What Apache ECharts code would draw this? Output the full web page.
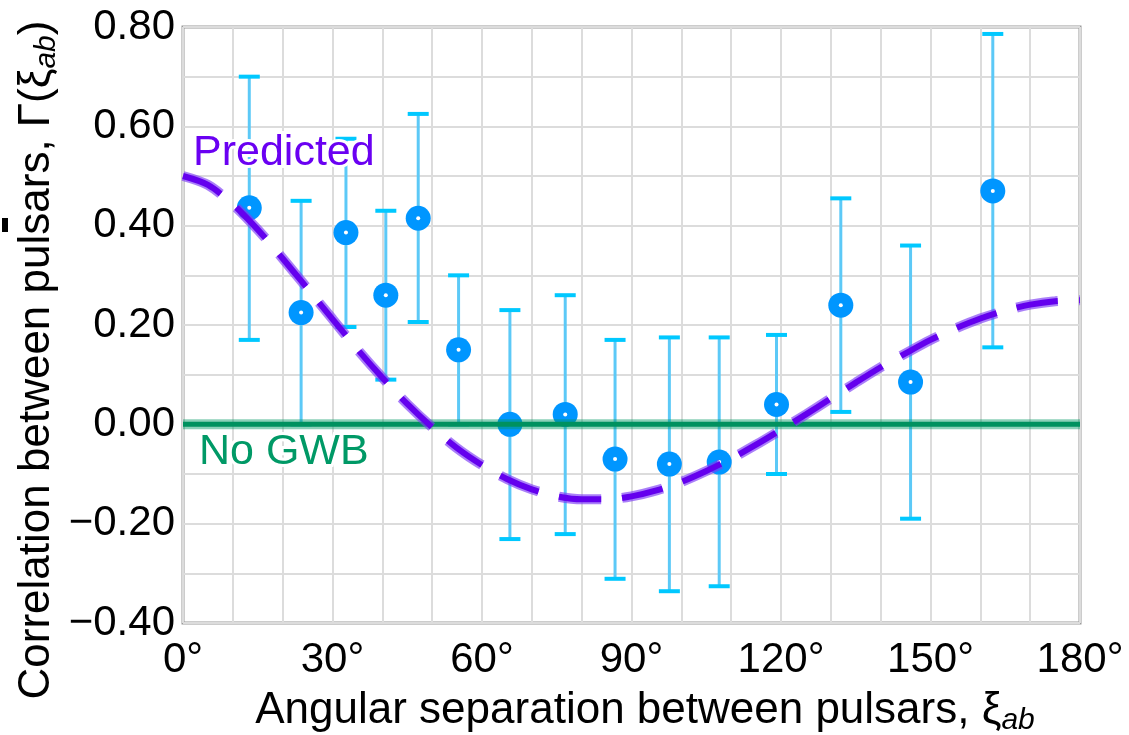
<!DOCTYPE html>
<html>
<head>
<meta charset="utf-8">
<script src="https://cdn.jsdelivr.net/npm/echarts@6/dist/echarts.min.js"></script>
<style>
  html, body { margin: 0; padding: 0; background: #fff; }
  #chart { width: 1129px; height: 735px; }
</style>
</head>
<body>
<div id="chart"></div>
<script>
// Measured pulsar-pair correlations, binned by angular separation (degrees)
const angles       = [13.3, 23.7, 32.7, 40.7, 47.2, 55.3, 65.6, 76.7, 86.7, 97.6, 107.6, 119.1, 132.0, 146.0, 162.5];
const correlations = [0.436, 0.225, 0.386, 0.26, 0.415, 0.15, 0.0, 0.02, -0.07, -0.08, -0.076, 0.04, 0.24, 0.085, 0.47];
const upperBounds  = [0.70, 0.45, 0.575, 0.43, 0.625, 0.30, 0.23, 0.26, 0.17, 0.175, 0.175, 0.18, 0.455, 0.36, 0.786];
const lowerBounds  = [0.17, 0.0, 0.196, 0.09, 0.206, 0.0, -0.231, -0.221, -0.311, -0.336, -0.326, -0.10, 0.025, -0.19, 0.155];

// Predicted (Hellings–Downs) correlation, sampled every 5 degrees
const curveAngles = [0, 5, 10, 15, 20, 25, 30, 35, 40, 45, 50, 55, 60, 65, 70, 75, 80, 85, 90,
                     95, 100, 105, 110, 115, 120, 125, 130, 135, 140, 145, 150, 155, 160, 165, 170, 175, 180];
const curveValues = [0.500, 0.482, 0.443, 0.392, 0.334, 0.273, 0.212, 0.151, 0.094, 0.041, -0.006,
                     -0.048, -0.082, -0.110, -0.131, -0.145, -0.151, -0.151, -0.145, -0.133, -0.116,
                     -0.094, -0.069, -0.041, -0.011, 0.020, 0.052, 0.084, 0.115, 0.143, 0.170,
                     0.193, 0.213, 0.229, 0.241, 0.248, 0.250];

// No-signal reference line
const noSignalAngles = [0, 180];
const noSignalValues = [0, 0];

const xTickStep = 30;   // labelled every 30°, gridded every 10°
const yTickStep = 0.2;  // labelled every 0.2, gridded every 0.1

const FONT = '"Liberation Sans", Arial, sans-serif';

const pts = angles.map((a, i) => [a, correlations[i]]);
const bars = angles.map((a, i) => [a, lowerBounds[i], upperBounds[i]]);
const curve = curveAngles.map((a, i) => [a, curveValues[i]]);
const flat = noSignalAngles.map((a, i) => [a, noSignalValues[i]]);

const chart = echarts.init(document.getElementById('chart'), null, { renderer: 'canvas' });

function fmtY(v) {
  const k = Math.round(v * 10);
  if (k % Math.round(yTickStep * 10) !== 0) return '';
  const s = Math.abs(v).toFixed(2);
  return (k < 0 ? '\u2212' : '') + s;
}

chart.setOption({
  animation: false,
  backgroundColor: '#fff',
  grid: {
    left: 183, top: 27, width: 897, height: 596,
    show: true, borderColor: '#9a9a9a', borderWidth: 3, backgroundColor: 'transparent'
  },
  xAxis: {
    type: 'value', min: 0, max: 180, interval: 10,
    axisLine: { show: false }, axisTick: { show: false },
    splitLine: { show: true, lineStyle: { color: '#dcdcdc', width: 2 } },
    axisLabel: {
      margin: 16, color: '#000', fontSize: 42, fontFamily: FONT,
      formatter: v => (Math.round(v) % xTickStep === 0 ? Math.round(v) + '°' : '')
    }
  },
  yAxis: {
    type: 'value', min: -0.4, max: 0.8, interval: 0.1,
    axisLine: { show: false }, axisTick: { show: false },
    splitLine: { show: true, lineStyle: { color: '#dcdcdc', width: 2 } },
    axisLabel: { margin: 8, color: '#000', fontSize: 42, fontFamily: FONT, formatter: fmtY }
  },
  series: [
    {
      // error bars with caps
      type: 'custom',
      data: bars,
      z: 2,
      renderItem: function (params, api) {
        const x = api.value(0);
        const lo = api.coord([x, api.value(1)]);
        const hi = api.coord([x, api.value(2)]);
        const cap = 10.5;
        return {
          type: 'group',
          children: [
            { type: 'line', shape: { x1: lo[0], y1: lo[1], x2: hi[0], y2: hi[1] },
              style: { stroke: '#5cc9f7', lineWidth: 3 } },
            { type: 'line', shape: { x1: hi[0] - cap, y1: hi[1], x2: hi[0] + cap, y2: hi[1] },
              style: { stroke: '#00c8ff', lineWidth: 4 } },
            { type: 'line', shape: { x1: lo[0] - cap, y1: lo[1], x2: lo[0] + cap, y2: lo[1] },
              style: { stroke: '#00c8ff', lineWidth: 4 } }
          ]
        };
      }
    },
    {
      type: 'scatter', data: pts, z: 3, symbol: 'circle', symbolSize: 25,
      itemStyle: { color: '#0096ff', opacity: 1 }
    },
    {
      type: 'scatter', data: pts, z: 4, symbol: 'circle', symbolSize: 4,
      itemStyle: { color: '#ffffff', opacity: 1 }
    },
    {
      type: 'line', data: flat, z: 5, symbol: 'none',
      lineStyle: { color: 'rgba(0,150,100,0.45)', width: 10 }
    },
    {
      type: 'line', data: flat, z: 6, symbol: 'none',
      lineStyle: { color: '#00915f', width: 5 }
    },
    {
      type: 'line', data: curve, z: 7, symbol: 'none', smooth: 0.3,
      lineStyle: { color: 'rgba(125,60,245,0.65)', width: 10, type: [42, 21], cap: 'butt' }
    },
    {
      type: 'line', data: curve, z: 8, symbol: 'none', smooth: 0.3,
      lineStyle: { color: '#6400ee', width: 6, type: [42, 21], cap: 'butt' }
    }
  ],
  graphic: [
    {
      type: 'text', left: 190, top: 129, z: 20,
      style: { text: 'Predicted', fill: '#6a00f2', font: '43px ' + FONT,
               stroke: '#fff', lineWidth: 6 }
    },
    {
      type: 'text', left: 196, top: 428, z: 20,
      style: { text: 'No GWB', fill: '#009966', font: '43px ' + FONT,
               stroke: '#fff', lineWidth: 6 }
    },
    {
      type: 'text', x: 645, y: 711, z: 20,
      style: {
        text: 'Angular separation between pulsars, ξ{sub|ab}',
        fill: '#000', font: '44px ' + FONT, align: 'center', verticalAlign: 'middle',
        lineHeight: 50,
        rich: { sub: { fontSize: 30, fontStyle: 'italic', fontFamily: FONT, fill: '#000',
                       lineHeight: 32, verticalAlign: 'bottom' } }
      }
    },
    {
      type: 'text', x: 37, y: 360, rotation: Math.PI / 2, z: 20,
      style: {
        text: 'Correlation between pulsars, Γ(ξ{sub|ab})',
        fill: '#000', font: '44px ' + FONT, align: 'center', verticalAlign: 'middle',
        lineHeight: 50,
        rich: { sub: { fontSize: 30, fontStyle: 'italic', fontFamily: FONT, fill: '#000',
                       lineHeight: 32, verticalAlign: 'bottom' } }
      }
    },
    {
      type: 'rect', shape: { x: 2, y: 218, width: 6, height: 14 }, z: 21,
      style: { fill: '#000' }
    }
  ]
});
</script>
</body>
</html>
